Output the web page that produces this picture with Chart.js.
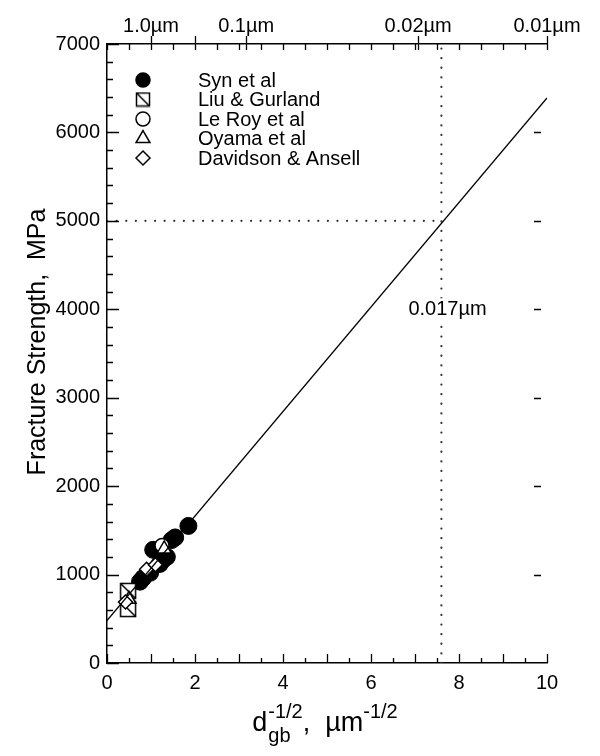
<!DOCTYPE html>
<html>
<head>
<meta charset="utf-8">
<script src="https://cdn.jsdelivr.net/npm/chart.js@4.4.0/dist/chart.umd.min.js"></script>
<style>
  html, body { margin: 0; padding: 0; background: #fff; }
</style>
</head>
<body>
<canvas id="chartHP" width="600" height="756"></canvas>
<script>
/* ========== DADOS ========== */

// Syn et al (círculos cheios)
const synX = [0.75, 0.82, 0.98, 1.05, 1.20, 1.27, 1.36, 1.47, 1.55, 1.85];
const synY = [920, 960, 1020, 1280, 1120, 1165, 1200, 1390, 1420, 1550];

// Liu & Gurland (quadrados)
const liuX = [0.48, 0.48];
const liuY = [610, 815];

// Le Roy et al (círculos abertos)
const leroyX = [1.25];
const leroyY = [1330];

// Oyama et al (triângulos)
const oyamaX = [0.50, 1.30];
const oyamaY = [720, 1290];

// Davidson & Ansell (losangos)
const davidsonX = [0.42, 0.90, 1.10];
const davidsonY = [690, 1060, 1110];

// reta de Hall-Petch
const retaX = [0, 10];
const retaY = [480, 6390];

// linhas pontilhadas de referência (0.017 µm -> 5000 MPa)
const guiaX = 7.6;
const guiaY = 5000;

// eixo superior: tamanho de grão (µm)
const topoDiam = [1.0, 0.25, 0.1, 0.02, 0.01];
const topoRotulos = ['1.0µm', '', '0.1µm', '0.02µm', '0.01µm'];

const nomesSeries = ['Syn et al', 'Liu & Gurland', 'Le Roy et al', 'Oyama et al', 'Davidson & Ansell'];

const anotacao = '0.017µm';
const anotX = 6.85;
const anotY = 4000;

const tituloY = 'Fracture Strength,  MPa';

/* ========== HELPERS ========== */

const FONTE = '"Liberation Sans", Arial, Helvetica, sans-serif';

function pares(xs, ys) {
  return xs.map((x, i) => ({ x: x, y: ys[i] }));
}

// quadrado com diagonal (Liu & Gurland)
function quadradoDiagonal(lado) {
  const c = document.createElement('canvas');
  c.width = lado + 3; c.height = lado + 3;
  const g = c.getContext('2d');
  g.fillStyle = '#fff';
  g.strokeStyle = '#000';
  g.lineWidth = 1.5;
  g.fillRect(1.5, 1.5, lado, lado);
  g.strokeRect(1.5, 1.5, lado, lado);
  g.beginPath();
  g.moveTo(1.5, 1.5);
  g.lineTo(1.5 + lado, 1.5 + lado);
  g.stroke();
  return c;
}

const simboloLiu = quadradoDiagonal(15);
const simboloLiuLeg = quadradoDiagonal(13);

/* ========== PLUGINS ========== */

// marcas dos eixos (para dentro)
const marcasEixos = {
  id: 'marcasEixos',
  afterDraw(chart) {
    const { ctx, chartArea: a, scales } = chart;
    const sx = scales.x, sy = scales.y;
    ctx.save();
    ctx.setLineDash([]);
    ctx.lineCap = 'butt';
    ctx.strokeStyle = '#000';
    ctx.lineWidth = 1.3;
    ctx.beginPath();
    for (let v = 0; v <= 10.001; v += 0.5) {
      const px = Math.round(sx.getPixelForValue(v)) + 0.5;
      const inteiro = Math.abs(v - Math.round(v)) < 0.01;
      const len = inteiro ? 9 : 5;
      ctx.moveTo(px, a.bottom); ctx.lineTo(px, a.bottom - len);
      ctx.moveTo(px, a.top); ctx.lineTo(px, a.top + 6);
    }
    for (let v = 0; v <= 7000; v += 200) {
      const py = Math.round(sy.getPixelForValue(v)) + 0.5;
      const len = v % 1000 === 0 ? 12 : 6;
      ctx.moveTo(a.left, py); ctx.lineTo(a.left + len, py);
      if (v % 1000 === 0 && v > 0 && v < 7000) {
        ctx.moveTo(a.right - 6, py); ctx.lineTo(a.right - 13, py);
      }
    }
    topoDiam.forEach(d => {
      const px = Math.round(sx.getPixelForValue(1 / Math.sqrt(d))) + 0.5;
      ctx.moveTo(px, a.top + 6); ctx.lineTo(px, a.top - 8);
    });
    ctx.stroke();
    ctx.restore();
  }
};

// legenda dentro da área do gráfico + anotação
const legendaInterna = {
  id: 'legendaInterna',
  afterDatasetsDraw(chart) {
    const { ctx, chartArea: a } = chart;
    ctx.save();
    ctx.setLineDash([]);
    ctx.font = '20px ' + FONTE;
    ctx.textBaseline = 'middle';
    ctx.textAlign = 'left';
    nomesSeries.forEach((nome, i) => {
      const ds = chart.data.datasets[i];
      const y = a.top + 36 + i * 19.5;
      const x = a.left + 36;
      ctx.fillStyle = ds.backgroundColor;
      ctx.strokeStyle = '#000';
      ctx.lineWidth = 1.5;
      const estilo = i === 1 ? simboloLiuLeg : ds.pointStyle;
      Chart.helpers.drawPoint(ctx, { pointStyle: estilo, rotation: 0, radius: ds.legendRadius, borderWidth: 1.5 }, x, y);
      ctx.fillStyle = '#000';
      ctx.fillText(nome, a.left + 91, y + 1);
    });
    // anotação com fundo branco sobre a linha pontilhada
    const ax = chart.scales.x.getPixelForValue(anotX);
    const ay = chart.scales.y.getPixelForValue(anotY);
    const w = ctx.measureText(anotacao).width;
    ctx.fillStyle = '#fff';
    ctx.fillRect(ax - 2, ay - 11, w + 4, 22);
    ctx.fillStyle = '#000';
    ctx.fillText(anotacao, ax, ay);
    ctx.restore();
  }
};

// títulos dos eixos (x com subscrito e sobrescrito)
const titulos = {
  id: 'titulos',
  afterDraw(chart) {
    const { ctx } = chart;
    ctx.save();
    ctx.fillStyle = '#000';

    // eixo y
    ctx.save();
    ctx.translate(38, 342);
    ctx.rotate(-Math.PI / 2);
    ctx.font = '25px ' + FONTE;
    ctx.textAlign = 'center';
    ctx.textBaseline = 'middle';
    ctx.fillText(tituloY, 0, 0);
    ctx.restore();

    // eixo x
    const base = 731;
    const grande = '27px ' + FONTE, pequeno = '20px ' + FONTE;
    ctx.textBaseline = 'alphabetic';
    ctx.textAlign = 'left';
    ctx.font = grande;
    const wD = ctx.measureText('d').width;
    const wM = ctx.measureText(',  µm').width;
    ctx.font = pequeno;
    const wSub = ctx.measureText('gb').width;
    const wSup = ctx.measureText('-1/2').width;
    const largura = wD + Math.max(wSub, wSup) + 1 + wM + wSup;
    let x = 325 - largura / 2;
    ctx.font = grande;
    ctx.fillText('d', x, base);
    x += wD + 1;
    ctx.font = pequeno;
    ctx.fillText('gb', x, base + 11);
    ctx.fillText('-1/2', x, base - 13);
    x += Math.max(wSub, wSup);
    ctx.font = grande;
    ctx.fillText(',  µm', x, base);
    x += wM;
    ctx.font = pequeno;
    ctx.fillText('-1/2', x, base - 13);
    ctx.restore();
  }
};

/* ========== CHART ========== */

const fonteTick = { family: FONTE, size: 20 };

const ctxHP = document.getElementById('chartHP').getContext('2d');
const chartHP = new Chart(ctxHP, {
  type: 'scatter',
  data: {
    datasets: [
      { label: nomesSeries[0], data: pares(synX, synY), pointStyle: 'circle', pointRadius: 8.5, legendRadius: 7,
        backgroundColor: '#000', borderColor: '#000', borderWidth: 1, order: 10 },
      { label: nomesSeries[1], data: pares(liuX, liuY), pointStyle: simboloLiu, legendRadius: 7,
        backgroundColor: '#fff', borderColor: '#000', borderWidth: 1.5, order: 4 },
      { label: nomesSeries[2], data: pares(leroyX, leroyY), pointStyle: 'circle', pointRadius: 7, legendRadius: 7,
        backgroundColor: '#fff', borderColor: '#000', borderWidth: 1.5, order: 3 },
      { label: nomesSeries[3], data: pares(oyamaX, oyamaY), pointStyle: 'triangle', pointRadius: 8, legendRadius: 8,
        backgroundColor: '#fff', borderColor: '#000', borderWidth: 1.5, order: 2 },
      { label: nomesSeries[4], data: pares(davidsonX, davidsonY), pointStyle: 'rectRot', pointRadius: 7, legendRadius: 7,
        backgroundColor: '#fff', borderColor: '#000', borderWidth: 1.5, order: 1 },
      { label: 'reta', type: 'line', data: pares(retaX, retaY), borderColor: '#000', borderWidth: 1.3,
        pointRadius: 0, fill: false, order: 0 },
      { label: 'guia h', type: 'line', data: [{ x: 0, y: guiaY }, { x: guiaX, y: guiaY }], borderColor: '#333',
        borderWidth: 2.2, borderDash: [0.1, 9.5], borderCapStyle: 'round', pointRadius: 0, order: 20 },
      { label: 'guia v', type: 'line', data: [{ x: guiaX, y: 0 }, { x: guiaX, y: 7000 }], borderColor: '#333',
        borderWidth: 2.2, borderDash: [0.1, 9.5], borderCapStyle: 'round', pointRadius: 0, order: 20 }
    ]
  },
  options: {
    responsive: false,
    animation: false,
    layout: { padding: { left: 0, right: 53, top: 0, bottom: 0 } },
    plugins: { legend: { display: false }, tooltip: { enabled: false } },
    scales: {
      x: {
        type: 'linear', position: 'bottom', min: 0, max: 10,
        ticks: { stepSize: 2, font: fonteTick, color: '#000', padding: 8, maxRotation: 0 },
        grid: { display: false, drawTicks: false },
        border: { display: true, color: '#000', width: 1.5 },
        afterFit(s) { s.height = 93; }
      },
      x2: {
        type: 'linear', position: 'top', min: 0, max: 10,
        afterBuildTicks(s) { s.ticks = topoDiam.map(d => ({ value: 1 / Math.sqrt(d) })); },
        ticks: { autoSkip: false, maxRotation: 0, font: fonteTick, color: '#000', padding: 6,
                 callback: (v, i) => topoRotulos[i] },
        grid: { display: false, drawTicks: false },
        border: { display: true, color: '#000', width: 1.5 },
        afterFit(s) { s.height = 44; }
      },
      y: {
        min: 0, max: 7000,
        ticks: { stepSize: 1000, font: fonteTick, color: '#000', padding: 7, callback: v => String(v) },
        grid: { display: false, drawTicks: false },
        border: { display: true, color: '#000', width: 1.5 },
        afterFit(s) { s.width = 107; }
      }
    }
  },
  plugins: [marcasEixos, legendaInterna, titulos]
});
</script>
</body>
</html>
